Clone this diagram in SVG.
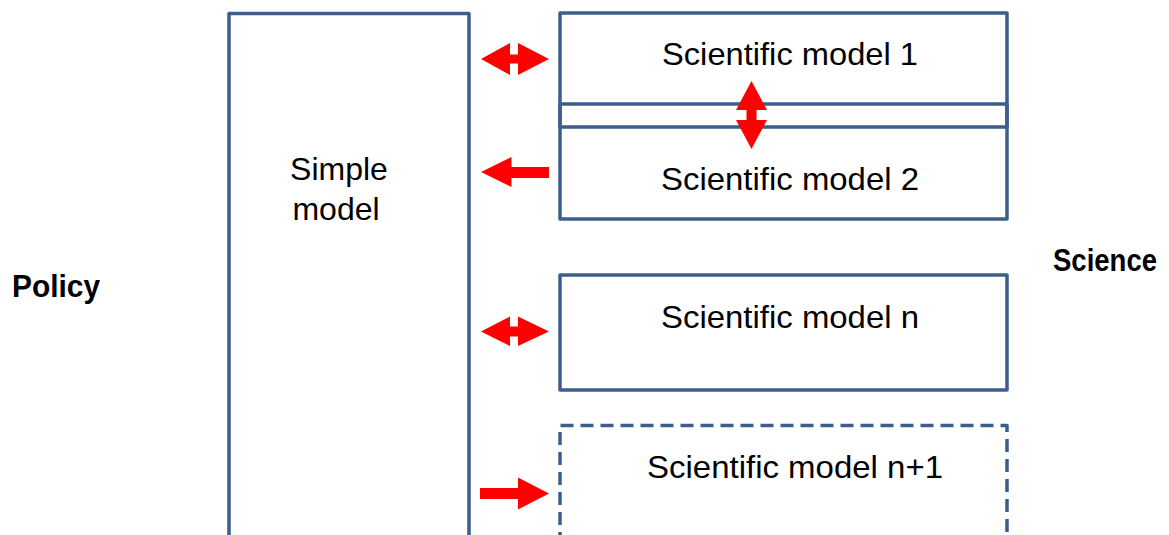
<svg xmlns="http://www.w3.org/2000/svg" width="1169" height="535" viewBox="0 0 1169 535">
  <defs>
    <style>
      .box { fill: none; stroke: #3B5E8C; stroke-width: 3.5; stroke-linejoin: round; }
      .dashed { stroke-dasharray: 13 7; }
      .lbl { font-family: "Liberation Sans", Arial, sans-serif; font-size: 32px; fill: #000; text-anchor: middle; }
      .side { font-family: "Liberation Sans", Arial, sans-serif; font-size: 31px; font-weight: bold; fill: #000; }
      .arrow { fill: #FF0000; stroke: none; }
    </style>
  </defs>
  <rect width="1169" height="535" fill="#FFFFFF"/>

  <!-- side labels -->
  <text class="side" x="12" y="297" textLength="88" lengthAdjust="spacingAndGlyphs">Policy</text>
  <text class="side" x="1053" y="271" textLength="104" lengthAdjust="spacingAndGlyphs">Science</text>

  <!-- simple model column (runs past the bottom edge) -->
  <g id="simple-model">
    <rect class="box" x="229" y="13.5" width="240" height="560"/>
    <text class="lbl" x="339" y="180">Simple</text>
    <text class="lbl" x="336" y="220">model</text>
  </g>

  <g id="scientific-model-1">
    <rect class="box" x="560" y="13" width="447" height="114"/>
    <text class="lbl" x="790" y="65" textLength="256" lengthAdjust="spacingAndGlyphs">Scientific model 1</text>
  </g>

  <g id="scientific-model-2">
    <rect class="box" x="560" y="104" width="447" height="115"/>
    <text class="lbl" x="790" y="190" textLength="258" lengthAdjust="spacingAndGlyphs">Scientific model 2</text>
  </g>

  <g id="scientific-model-n">
    <rect class="box" x="560" y="275" width="447" height="115"/>
    <text class="lbl" x="790" y="328" textLength="258" lengthAdjust="spacingAndGlyphs">Scientific model n</text>
  </g>

  <g id="scientific-model-n1">
    <path class="box dashed" d="M560,545 V425.5 H1007 V545"/>
    <text class="lbl" x="795" y="478" textLength="296" lengthAdjust="spacingAndGlyphs">Scientific model n+1</text>
  </g>

  <!-- connectors -->
  <g id="connectors">
    <!-- simple model <-> model 1 -->
    <polygon class="arrow" points="481,59 510,43 510,54.5 518,54.5 518,43 549,59 518,75 518,63.5 510,63.5 510,75"/>
    <!-- model 1 <-> model 2 -->
    <polygon class="arrow" points="751.5,81 767,110 756.5,110 756.5,120 767,120 751.5,149 736,120 746.5,120 746.5,110 736,110"/>
    <!-- model 2 -> simple model -->
    <polygon class="arrow" points="481,172 511.5,157 511.5,167 549,167 549,178 511.5,178 511.5,187"/>
    <!-- simple model <-> model n -->
    <polygon class="arrow" points="481,331.5 510,316.5 510,326.5 518,326.5 518,316.5 549,331.5 518,346 518,336.5 510,336.5 510,346"/>
    <!-- simple model -> model n+1 -->
    <polygon class="arrow" points="480,488 518,488 518,477.5 549,493.5 518,509.5 518,499 480,499"/>
  </g>
</svg>
